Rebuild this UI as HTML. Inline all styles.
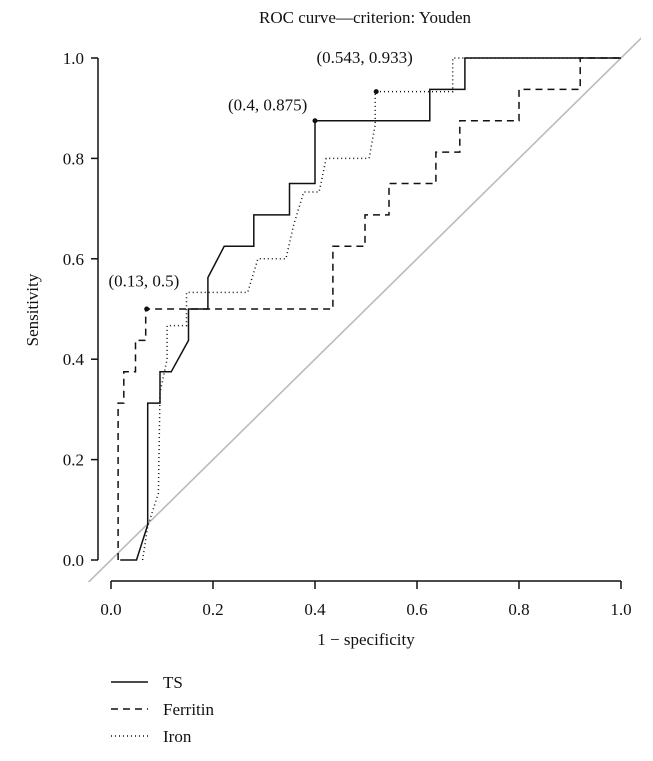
<!DOCTYPE html>
<html><head><meta charset="utf-8">
<style>
body{margin:0;background:#fff;}
svg text{font-family:"Liberation Serif",serif;fill:#111;}
</style></head>
<body>
<svg id="chart" width="653" height="756" viewBox="0 0 653 756">
<defs><clipPath id="plotclip"><rect x="88" y="36" width="553" height="546"/></clipPath></defs>
<text x="365" y="23" font-size="17" text-anchor="middle">ROC curve—criterion: Youden</text>
<text transform="translate(38,310) rotate(-90)" font-size="17" text-anchor="middle">Sensitivity</text>
<text x="366" y="645" font-size="17" text-anchor="middle">1 − specificity</text>
<g id="axes"></g>
<g id="series" clip-path="url(#plotclip)"></g>
<g id="legend">
<line x1="111" y1="682" x2="148" y2="682" stroke="#111" stroke-width="1.5"/>
<text x="163" y="688" font-size="17">TS</text>
<line x1="111" y1="709" x2="148" y2="709" stroke="#111" stroke-width="1.5" stroke-dasharray="7,5"/>
<text x="163" y="715" font-size="17">Ferritin</text>
<line x1="111" y1="736" x2="148" y2="736" stroke="#111" stroke-width="1.5" stroke-dasharray="1,3"/>
<text x="163" y="742" font-size="17">Iron</text>
</g>
</svg>
<script>
const xTicks = [0, 0.2, 0.4, 0.6, 0.8, 1.0];
const yTicks = [0, 0.2, 0.4, 0.6, 0.8, 1.0];
const tickLabels = ["0.0", "0.2", "0.4", "0.6", "0.8", "1.0"];
const tsFpr = [0.018,0.05,0.072,0.072,0.096,0.096,0.118,0.152,0.152,0.19,0.19,0.222,0.28,0.28,0.35,0.35,0.4,0.4,0.625,0.625,0.694,0.694,1.0];
const tsTpr = [0,0,0.07,0.3125,0.3125,0.375,0.375,0.4375,0.5,0.5,0.5625,0.625,0.625,0.6875,0.6875,0.75,0.75,0.875,0.875,0.9375,0.9375,1.0,1.0];
const ferFpr = [0.014,0.014,0.025,0.025,0.048,0.048,0.068,0.068,0.435,0.435,0.498,0.498,0.545,0.545,0.637,0.637,0.684,0.684,0.8,0.8,0.92,0.92,1.0];
const ferTpr = [0,0.3125,0.3125,0.375,0.375,0.4375,0.4375,0.5,0.5,0.625,0.625,0.6875,0.6875,0.75,0.75,0.8125,0.8125,0.875,0.875,0.9375,0.9375,1.0,1.0];
const ironFpr = [0.062,0.072,0.093,0.096,0.11,0.11,0.148,0.148,0.268,0.288,0.343,0.358,0.378,0.408,0.422,0.506,0.518,0.518,0.67,0.67,1.0];
const ironTpr = [0,0.067,0.133,0.333,0.4,0.467,0.467,0.533,0.533,0.6,0.6,0.667,0.733,0.733,0.8,0.8,0.867,0.933,0.933,1.0,1.0];
const markFpr = [0.07, 0.4, 0.52];
const markTpr = [0.5, 0.875, 0.933];
const markLabels = ["(0.13, 0.5)", "(0.4, 0.875)", "(0.543, 0.933)"];

const NS = "http://www.w3.org/2000/svg";
const X0 = 111, XS = 510, Y0 = 560, YS = 502;
function sx(v){ return X0 + v*XS; }
function sy(v){ return Y0 - v*YS; }
function mk(tag, attrs, parent){
  const e = document.createElementNS(NS, tag);
  for (const k in attrs) e.setAttribute(k, attrs[k]);
  parent.appendChild(e); return e;
}
const axes = document.getElementById("axes");
const series = document.getElementById("series");

let yl = mk("line", {x1:98, y1:sy(0), x2:98, y2:sy(1), stroke:"#111", "stroke-width":1.5}, axes);


yTicks.forEach((t,i)=>{
  const tk = mk("line", {x1:91, y1:sy(t), x2:98, y2:sy(t), stroke:"#111", "stroke-width":1.5}, axes);
  
  
  const tx = mk("text", {x:84, y:sy(t)+6, "font-size":17, "text-anchor":"end"}, axes);
  tx.textContent = tickLabels[i];
  
  
});
let xl = mk("line", {x1:sx(0), y1:581, x2:sx(1), y2:581, stroke:"#111", "stroke-width":1.5}, axes);


xTicks.forEach((t,i)=>{
  const tk = mk("line", {x1:sx(t), y1:581, x2:sx(t), y2:589, stroke:"#111", "stroke-width":1.5}, axes);
  
  
  const tx = mk("text", {x:sx(t), y:615, "font-size":17, "text-anchor":"middle"}, axes);
  tx.textContent = tickLabels[i];
  
  
});
const dg = mk("line", {x1:sx(-0.05), y1:sy(-0.05), x2:sx(1.06), y2:sy(1.06), stroke:"#bbb", "stroke-width":1.6}, series);



function curve(xs, ys, dash, name){
  const pts = xs.map((x,i)=>sx(x).toFixed(1)+","+sy(ys[i]).toFixed(1)).join(" ");
  const p = mk("polyline", {points:pts, fill:"none", stroke:"#111", "stroke-width":1.5}, series);
  if (dash) p.setAttribute("stroke-dasharray", dash);
  
  
}
curve(tsFpr, tsTpr, null, "ts-curve");
curve(ferFpr, ferTpr, "7,5", "ferritin-curve");
curve(ironFpr, ironTpr, "1,3", "iron-curve");

const labelPos = [[-0.005, 0.545, "start"], [0.385, 0.895, "end"], [0.403, 0.99, "start"]];
markFpr.forEach((x,i)=>{
  const c = mk("circle", {cx:sx(x), cy:sy(markTpr[i]), r:2.5, fill:"#111"}, axes);
  
  
  const t = mk("text", {x:sx(labelPos[i][0]), y:sy(labelPos[i][1]), "font-size":17, "text-anchor":labelPos[i][2]}, axes);
  t.textContent = markLabels[i];
  
  
});
</script>
</body></html>
